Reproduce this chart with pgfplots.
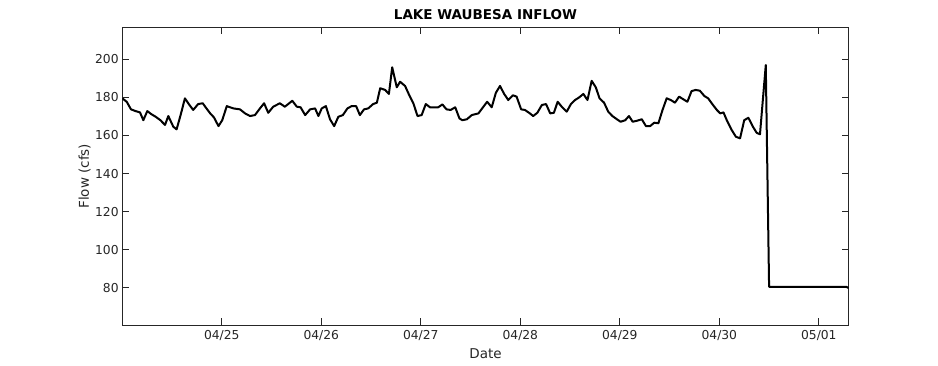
\documentclass[border=0pt]{standalone}
\usepackage{pgfplots}
\pgfplotsset{compat=1.18}
\usepackage{fontspec}
\setmainfont{DejaVu Sans}
\begin{document}
\begin{tikzpicture}
\path[use as bounding box] (0,0) rectangle (938pt,365pt);
\begin{axis}[
  at={(122.3pt,39.7pt)}, anchor=south west,
  width=726.4pt, height=298pt, scale only axis,
  xmin=0, xmax=175.2, ymin=60.3, ymax=216.8,
  xtick={24,48,72,96,120,144,168},
  xticklabels={04/25,04/26,04/27,04/28,04/29,04/30,05/01},
  ytick={80,100,120,140,160,180,200},
  tick align=inside, major tick length=7pt,
  /pgf/number format/assume math mode=true,
  every tick label/.append style={font=\fontsize{12.3}{14}\selectfont, text=black!85, inner sep=0pt},
  yticklabel style={xshift=-3.5pt},
  xticklabel style={yshift=-4.5pt},
  axis line style={black!85, line width=0.8pt},
  every tick/.style={black!85, line width=0.8pt},
  ylabel={Flow (cfs)},
  ylabel style={at={(axis description cs:-0.052,0.5)}, anchor=center, rotate=0, font=\fontsize{13.5}{15}\selectfont, text=black!85, inner sep=0pt},
  xlabel={Date},
  xlabel style={at={(axis description cs:0.5,-0.095)}, anchor=center, font=\fontsize{13.5}{15}\selectfont, text=black!85, inner sep=0pt},
  every axis title shift=0pt,
  title={LAKE WAUBESA INFLOW},
  title style={at={(axis description cs:0.5,1.0413)}, anchor=center, font=\bfseries\fontsize{13.5}{15}\selectfont, inner sep=0pt},
]
\addplot[black, line width=2pt, line join=round] coordinates {
(0,179.5) (1.06,177.7) (2.1,173.7) (3.2,172.8) (4.27,172.1) (5.07,168) (6.03,172.8) (7.0,171.2) (8.06,169.8) (9.2,168) (10.3,165.5) (11.1,170.2) (12.3,164.6) (13.1,163.2) (14.1,171) (15.1,179.5) (16.1,176.3) (17.1,173.4) (18.3,176.5) (19.4,176.9) (20.3,174.2) (21.2,171.6) (22.1,169.5) (23.2,164.9) (24.1,168) (25.2,175.4) (26.8,174.2) (28.4,173.7) (29.6,171.6) (30.8,170.2) (32,170.7) (33.2,174.2) (34.2,176.9) (35.2,171.9) (36.4,175.1) (38,176.9) (39.2,175.1) (41,178.2) (42.1,175.1) (43,174.8) (44.1,170.7) (45.3,173.7) (46.5,174.2) (47.3,170.2) (48.1,174.2) (49.1,175.4) (50.1,168.5) (51.1,164.9) (52.1,169.8) (53.2,170.7) (54.3,174.2) (55.3,175.4) (56.4,175.4) (57.3,170.7) (58.3,173.7) (59.3,174.2) (60.5,176.5) (61.4,177.2) (62.2,184.8) (63.4,183.9) (64.3,181.8) (65.1,195.8) (66.2,185.3) (67,188.2) (68.2,186) (69.2,181.2) (70.2,176.9) (71.2,170.2) (72.2,170.7) (73.2,176.5) (74.2,174.8) (75.2,174.8) (76.2,174.8) (77.2,176.3) (78.2,173.7) (79.2,173.4) (80.3,174.8) (81.3,169) (82,168) (83.1,168.5) (84.3,170.7) (85.9,171.6) (86.8,174.2) (88,177.7) (89.1,174.8) (90.1,182.4) (91.1,186) (92.1,181.8) (93.1,178.6) (94.2,181.1) (95.1,180.4) (96.2,173.7) (97.1,173.4) (98.3,171.6) (99.1,170.2) (100.1,171.9) (101.2,176) (102.2,176.5) (103.2,171.6) (104.1,171.9) (105,177.7) (106.1,174.8) (107.2,172.5) (108.2,176.5) (109.2,178.6) (110.2,180) (111.2,181.8) (112.2,178.6) (113.2,188.7) (114.2,185.3) (115.1,179.5) (116.2,177.2) (117.2,172.5) (118.2,170.2) (119.3,168.5) (120.2,167.2) (121.3,168) (122.2,170.2) (123.1,167.2) (124.1,167.7) (125.3,168.5) (126.3,164.9) (127.3,164.9) (128.3,166.7) (129.3,166.4) (130.3,173.4) (131.3,179.5) (132.3,178.6) (133.3,177.2) (134.3,180.4) (135.3,179) (136.3,177.7) (137.3,183.3) (138.3,183.9) (139.3,183.5) (140.4,180.7) (141.3,179.5) (142.4,176.2) (143.4,173.4) (144.2,171.6) (145,172.1) (145.8,168) (147,162.8) (148,159.3) (149,158.5) (150,168) (151,169.3) (152.1,164.6) (153,161.4) (153.8,160.6) (155.2,197) (156,80.5) (174.6,80.5) (175.2,79.9)
};
\end{axis}
\end{tikzpicture}
\end{document}
